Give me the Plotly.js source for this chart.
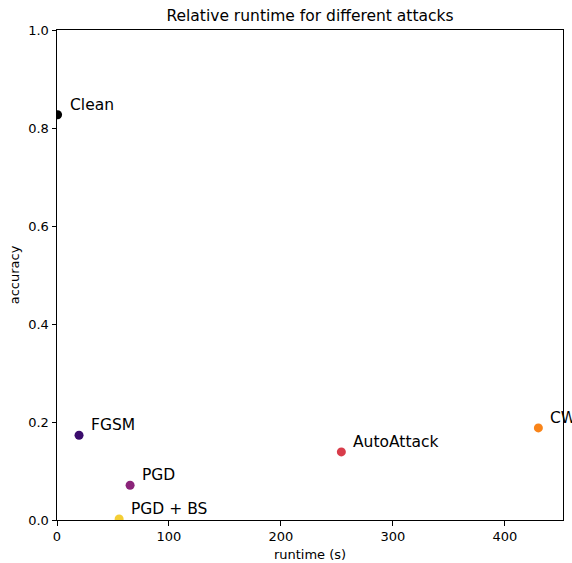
<!DOCTYPE html>
<html>
<head>
<meta charset="utf-8">
<script src="https://cdn.plot.ly/plotly-3.0.1.min.js"></script>
<style>html,body{margin:0;padding:0;background:#fff;}</style>
</head>
<body>
<div id="chart" style="width:572px;height:563px;"></div>
<script>
const attacks = ["Clean", "FGSM", "PGD", "PGD + BS", "AutoAttack", "CW"];
const runtime = [0.5, 19.7, 65.3, 55.5, 254, 430];
const accuracy = [0.827, 0.173, 0.071, 0.002, 0.139, 0.188];
const colors = ["#000000", "#3a0c6c", "#8b2479", "#f4ce35", "#d83c4a", "#f98419"];
const xTicks = [0, 100, 200, 300, 400];
const yTicks = [0, 0.2, 0.4, 0.6, 0.8, 1.0];

const font = "DejaVu Sans, sans-serif";

const trace = {
  x: runtime,
  y: accuracy,
  mode: "markers",
  type: "scatter",
  marker: {color: colors, size: 9},
  cliponaxis: true,
  hoverinfo: "skip"
};

const annotations = attacks.map((name, i) => ({
  x: runtime[i], y: accuracy[i], xref: "x", yref: "y",
  text: name, showarrow: false,
  xanchor: "left", yanchor: "middle",
  xshift: 10, yshift: 10,
  font: {family: font, size: 15.5, color: "#000"}
}));

const axisCommon = {
  showgrid: false, zeroline: false,
  showline: true, mirror: true, linecolor: "#000", linewidth: 1,
  ticks: "outside", ticklen: 4.5, tickwidth: 1, tickcolor: "#000",
  tickfont: {family: font, size: 13, color: "#000"}
};

const layout = {
  width: 572, height: 563,
  margin: {l: 57, r: 9, t: 30, b: 43},
  paper_bgcolor: "#fff", plot_bgcolor: "#fff",
  showlegend: false,
  font: {family: font, color: "#000"},
  title: {text: "Relative runtime for different attacks", font: {family: font, size: 15.5, color: "#000"},
          x: 0.5, xanchor: "center", xref: "paper", y: 1 - 16/563, yref: "container", yanchor: "middle"},
  xaxis: Object.assign({}, axisCommon, {
    range: [0, 452], tickvals: xTicks, ticktext: xTicks.map(String),
    title: {text: "runtime (s)", font: {family: font, size: 13, color: "#000"}, standoff: 6}
  }),
  yaxis: Object.assign({}, axisCommon, {
    range: [0, 1], tickvals: yTicks, ticktext: yTicks.map(v => v.toFixed(1)),
    title: {text: "accuracy", font: {family: font, size: 13, color: "#000"}, standoff: 5}
  }),
  annotations: annotations
};

Plotly.newPlot("chart", [trace], layout, {displayModeBar: false, staticPlot: true});
</script>
</body>
</html>
